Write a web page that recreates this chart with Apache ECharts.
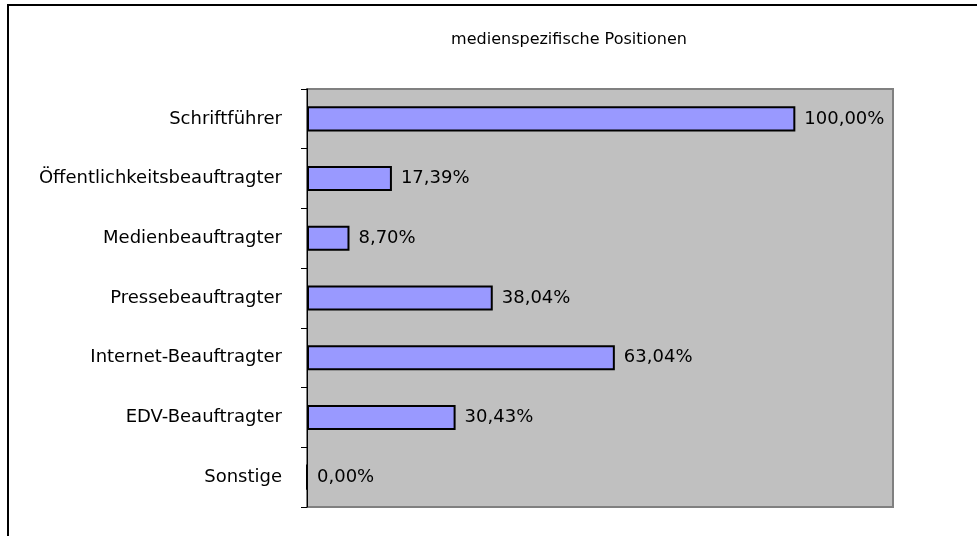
<!DOCTYPE html>
<html>
<head>
<meta charset="utf-8">
<script src="https://cdn.jsdelivr.net/npm/echarts@6/dist/echarts.min.js"></script>
<style>
  html, body { margin: 0; padding: 0; background: #fff; }
  #chart { width: 977px; height: 536px; }
</style>
</head>
<body>
<div id="chart"></div>
<script>
const categories = [
  'Schriftführer',
  'Öffentlichkeitsbeauftragter',
  'Medienbeauftragter',
  'Pressebeauftragter',
  'Internet-Beauftragter',
  'EDV-Beauftragter',
  'Sonstige'
];
const values = [100.00, 17.39, 8.70, 38.04, 63.04, 30.43, 0.00];

const font = 'DejaVu Sans, Verdana, sans-serif';

let chart = echarts.init(document.getElementById('chart'));
chart.setOption({
  backgroundColor: '#fff',
  animation: false,
  title: {
    text: 'medienspezifische Positionen',
    left: 564, top: 27, textAlign: 'center',
    textStyle: { fontFamily: font, fontSize: 16, fontWeight: 'normal', color: '#000' }
  },
  graphic: [{
    type: 'rect', z: 100, silent: true,
    shape: { x: 8, y: 5, width: 1000, height: 600 },
    style: { fill: null, stroke: '#000', lineWidth: 2 }
  }],
  grid: {
    left: 307, right: 84, top: 89, bottom: 29,
    show: true, backgroundColor: '#c0c0c0', borderColor: '#808080', borderWidth: 2
  },
  xAxis: {
    type: 'value', min: 0, max: 120,
    axisLine: { show: false }, axisTick: { show: false },
    axisLabel: { show: false }, splitLine: { show: false }
  },
  yAxis: {
    type: 'category', data: categories, inverse: true,
    axisLine: { show: true, lineStyle: { color: '#000', width: 1 } },
    axisTick: { show: true, length: 6, lineStyle: { color: '#000' } },
    axisLabel: { fontFamily: font, fontSize: 18, color: '#000', margin: 25 },
    splitLine: { show: false }
  },
  series: [{
    type: 'bar', data: values, barCategoryGap: '58%',
    itemStyle: { color: '#9999ff', borderColor: '#000', borderWidth: 2 },
    label: {
      show: true, position: 'right', distance: 9,
      fontFamily: font, fontSize: 18, color: '#000',
      formatter: p => p.value.toFixed(2).replace('.', ',') + '%'
    }
  }]
});
</script>
</body>
</html>
